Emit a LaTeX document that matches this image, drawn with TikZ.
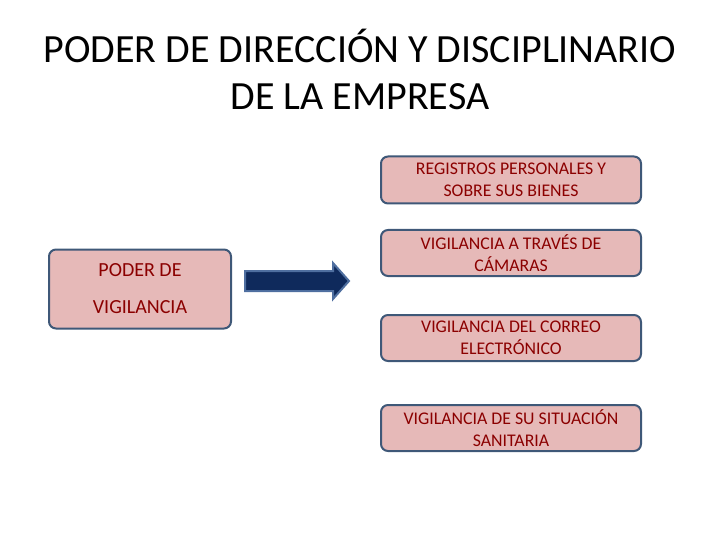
\documentclass[tikz,border=0pt]{standalone}
\usepackage{fontspec}
\setmainfont{Carlito}
\definecolor{boxfill}{HTML}{E6B9B8}
\definecolor{boxline}{HTML}{3F5878}
\definecolor{txt}{HTML}{8B0000}
\definecolor{navy}{HTML}{0F2A5C}
\definecolor{navyedge}{HTML}{4F6FA0}
\begin{document}
\begin{tikzpicture}[x=1pt,y=-1pt,
  pbox/.style={draw=boxline,line width=2pt,fill=boxfill,rounded corners=7pt,text=txt,align=center,font=\fontsize{17.8}{22}\selectfont,inner sep=0pt}]
\useasboundingbox (0,0) rectangle (720,540);
\node[font=\fontsize{40}{47}\selectfont,align=center] (title) at (360,69) {PODER DE DIRECCIÓN Y DISCIPLINARIO\\DE LA EMPRESA};
\node[pbox,minimum width=182pt,minimum height=79pt,font=\fontsize{20}{37}\selectfont] (L) at (140,289) {PODER DE\\VIGILANCIA};
\node[pbox,minimum width=260pt,minimum height=47pt] (b1) at (511,180) {REGISTROS PERSONALES Y\\SOBRE SUS BIENES};
\node[pbox,minimum width=260pt,minimum height=46pt] (b2) at (511,253) {VIGILANCIA A TRAVÉS DE\\CÁMARAS};
\node[pbox,minimum width=260pt,minimum height=46pt] (b3) at (511,338) {VIGILANCIA DEL CORREO\\ELECTRÓNICO};
\node[pbox,minimum width=260pt,minimum height=46pt] (b4) at (511,428) {VIGILANCIA DE SU SITUACIÓN\\SANITARIA};
\draw[draw=navyedge,line width=2pt,fill=navy,line join=miter]
  (245,271) -- (333,271) -- (333,263) -- (349,281) -- (333,299) -- (333,291) -- (245,291) -- cycle;
\end{tikzpicture}
\end{document}
